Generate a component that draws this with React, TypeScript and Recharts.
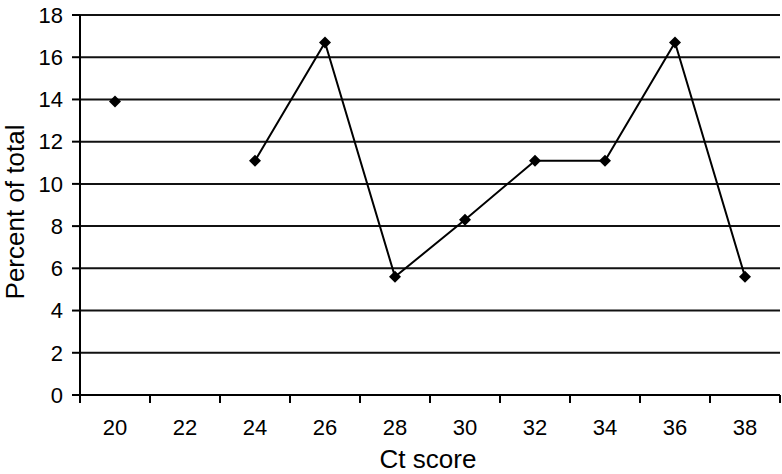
import React from 'react'
import { LineChart, Line, XAxis, YAxis, CartesianGrid } from 'recharts'

const ctScores = ['20', '22', '24', '26', '28', '30', '32', '34', '36', '38']
const percentOfTotal = [13.9, null, 11.1, 16.7, 5.6, 8.3, 11.1, 11.1, 16.7, 5.6]
const yTicks = [0, 2, 4, 6, 8, 10, 12, 14, 16, 18]

const data = ctScores.map((ct, i) => ({ ct, pct: percentOfTotal[i] }))

const FONT = '"Liberation Sans", Arial, sans-serif'
const HALF_BAND = 35

// tick marks sit between categories, labels in the middle
function CtTick(props: any) {
  const { x, y, payload, index } = props
  const top = y - 24
  const bottom = y - 16
  return (
    <g>
      <line x1={x - HALF_BAND} x2={x - HALF_BAND} y1={top} y2={bottom} stroke="#000" strokeWidth={2} />
      {index === ctScores.length - 1 && (
        <line x1={x + HALF_BAND} x2={x + HALF_BAND} y1={top} y2={bottom} stroke="#000" strokeWidth={2} />
      )}
      <text x={x} y={y} dy="0.71em" textAnchor="middle" fontSize={22} fill="#000" fontFamily={FONT}>
        {payload.value}
      </text>
    </g>
  )
}

function YTitle(props: any) {
  const { viewBox } = props
  const x = viewBox.x + 15
  const y = viewBox.y + viewBox.height / 2 + 7
  return (
    <text
      x={x}
      y={y}
      dy="0.355em"
      transform={`rotate(-90, ${x}, ${y})`}
      textAnchor="middle"
      fontSize={26}
      fill="#000"
      fontFamily={FONT}
    >
      Percent of total
    </text>
  )
}

function Diamond(props: any) {
  const { cx, cy, index } = props
  if (cx == null || cy == null || percentOfTotal[index] == null) return <g key={index} />
  const r = 6
  return (
    <polygon
      key={index}
      points={`${cx},${cy - r} ${cx + r},${cy} ${cx},${cy + r} ${cx - r},${cy}`}
      fill="#000"
    />
  )
}

export default function App() {
  return (
    <div style={{ position: 'absolute', left: 0, top: 0, background: '#fff' }}>
      <LineChart
        width={782}
        height={474}
        data={data}
        margin={{ top: 15, right: 2, left: 0, bottom: 0 }}
        style={{ fontFamily: FONT }}
      >
        <CartesianGrid vertical={false} stroke="#111" strokeWidth={2} />
        <XAxis
          dataKey="ct"
          scale="band"
          height={79}
          tickSize={8}
          tickMargin={16}
          tickLine={false}
          axisLine={{ stroke: '#000', strokeWidth: 2 }}
          tick={<CtTick />}
          interval={0}
          label={{ value: 'Ct score', position: 'insideBottom', offset: 6, fontSize: 26, fill: '#000', dx: -2 }}
        />
        <XAxis
          xAxisId="top"
          dataKey="ct"
          scale="band"
          orientation="top"
          height={0}
          tick={false}
          tickLine={false}
          axisLine={{ stroke: '#888', strokeWidth: 2 }}
        />
        <YAxis
          domain={[0, 18]}
          ticks={yTicks}
          width={80}
          tickSize={8}
          tickMargin={9}
          tick={{ fontSize: 22, fill: '#000' }}
          tickLine={{ stroke: '#000', strokeWidth: 2 }}
          axisLine={{ stroke: '#000', strokeWidth: 2 }}
          label={<YTitle />}
        />
        <YAxis
          yAxisId="right"
          orientation="right"
          domain={[0, 18]}
          width={0}
          tick={false}
          tickLine={false}
          axisLine={{ stroke: '#888', strokeWidth: 2 }}
        />
        <Line
          dataKey="pct"
          type="linear"
          stroke="#000"
          strokeWidth={2}
          connectNulls={false}
          dot={Diamond}
          activeDot={false}
          isAnimationActive={false}
        />
      </LineChart>
    </div>
  )
}
